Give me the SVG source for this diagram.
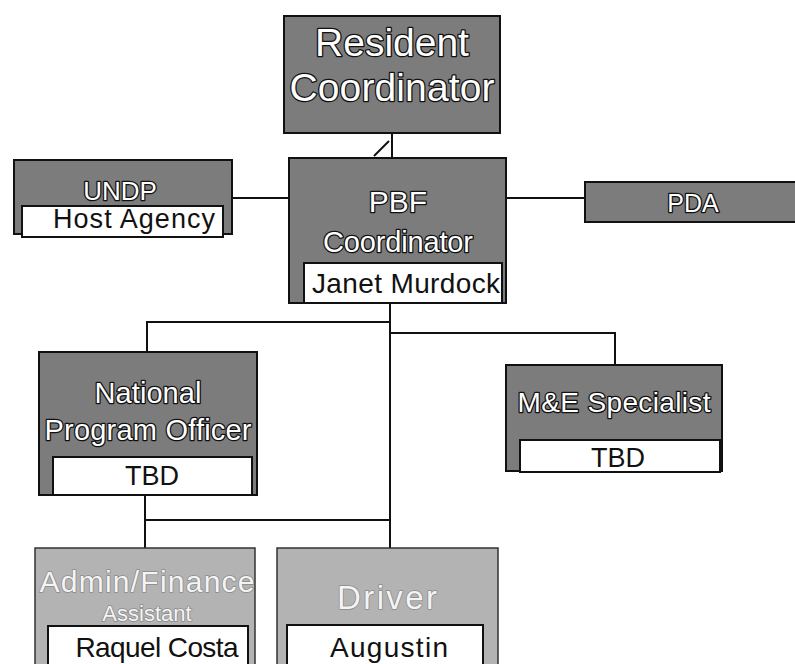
<svg xmlns="http://www.w3.org/2000/svg" width="795" height="664" viewBox="0 0 795 664">
<style>
.dark{fill:#7c7c7c;stroke:#111;stroke-width:2}
.light{fill:#b3b3b3;stroke:#333;stroke-width:1.5}
.wbox{fill:#fff;stroke:#111;stroke-width:2}
.ttl{font-family:"Liberation Sans",Arial,sans-serif;fill:#fff;stroke:#111;stroke-width:2.6;paint-order:stroke;stroke-linejoin:round;text-anchor:middle}
.lttl{font-family:"Liberation Sans",Arial,sans-serif;fill:#f4f4f4;stroke:#8a8a8a;stroke-width:1.6;paint-order:stroke;stroke-linejoin:round;text-anchor:middle}
.nm{font-family:"Liberation Sans",Arial,sans-serif;fill:#111;text-anchor:middle}
.con{fill:none;stroke:#111;stroke-width:2}
</style>
<rect width="795" height="664" fill="#fff"/>
<g id="connectors">
<path class="con" d="M392 133V158"/>
<path class="con" d="M374 156L389 141" stroke-width="1.2"/>
<path class="con" d="M232 198H289"/>
<path class="con" d="M506 198H585"/>
<path class="con" d="M390 303V548"/>
<path class="con" d="M147 352V322H390"/>
<path class="con" d="M390 333H615V365"/>
<path class="con" d="M145 495V548"/>
<path class="con" d="M145 520H390"/>
</g>
<g id="resident-coordinator">
<rect class="dark" x="284" y="16" width="216" height="117"/>
<text class="ttl" x="392" y="56" font-size="39">Resident</text>
<text class="ttl" x="392" y="101" font-size="39" textLength="205">Coordinator</text>
</g>
<g id="undp">
<rect class="dark" x="14" y="160" width="218" height="74"/>
<text class="ttl" x="120" y="200" font-size="26">UNDP</text>
<rect class="wbox" x="22" y="206" width="201" height="31"/>
<text class="nm" x="134" y="228" font-size="27" textLength="162">Host Agency</text>
</g>
<g id="pbf-coordinator">
<rect class="dark" x="289" y="158" width="217" height="145"/>
<text class="ttl" x="398" y="212" font-size="30">PBF</text>
<text class="ttl" x="398" y="252" font-size="29" textLength="150">Coordinator</text>
<rect class="wbox" x="304" y="263" width="198" height="40"/>
<text class="nm" x="406" y="293" font-size="28" textLength="188">Janet Murdock</text>
</g>
<g id="pda">
<rect class="dark" x="585" y="182" width="215" height="40"/>
<text class="ttl" x="693" y="212" font-size="25">PDA</text>
</g>
<g id="national-program-officer">
<rect class="dark" x="39" y="352" width="218" height="143"/>
<text class="ttl" x="148" y="403" font-size="29" textLength="107">National</text>
<text class="ttl" x="148" y="440" font-size="29" textLength="207">Program Officer</text>
<rect class="wbox" x="53" y="457" width="199" height="38"/>
<text class="nm" x="152" y="485" font-size="27">TBD</text>
</g>
<g id="me-specialist">
<rect class="dark" x="506" y="365" width="216" height="106"/>
<text class="ttl" x="614" y="412" font-size="28" textLength="193">M&amp;E Specialist</text>
<rect class="wbox" x="520" y="440" width="200" height="32"/>
<text class="nm" x="618" y="467" font-size="27">TBD</text>
</g>
<g id="admin-finance-assistant">
<rect class="light" x="35" y="548" width="220" height="130"/>
<text class="lttl" x="147" y="592" font-size="30" textLength="215">Admin/Finance</text>
<text class="lttl" x="147" y="621" font-size="22">Assistant</text>
<rect class="wbox" x="48" y="626" width="200" height="50"/>
<text class="nm" x="157" y="657" font-size="28" textLength="163">Raquel Costa</text>
</g>
<g id="driver">
<rect class="light" x="277" y="548" width="221" height="130"/>
<text class="lttl" x="387" y="609" font-size="33" textLength="100">Driver</text>
<rect class="wbox" x="287" y="625" width="196" height="50"/>
<text class="nm" x="389" y="657" font-size="28" textLength="118">Augustin</text>
</g>
</svg>
